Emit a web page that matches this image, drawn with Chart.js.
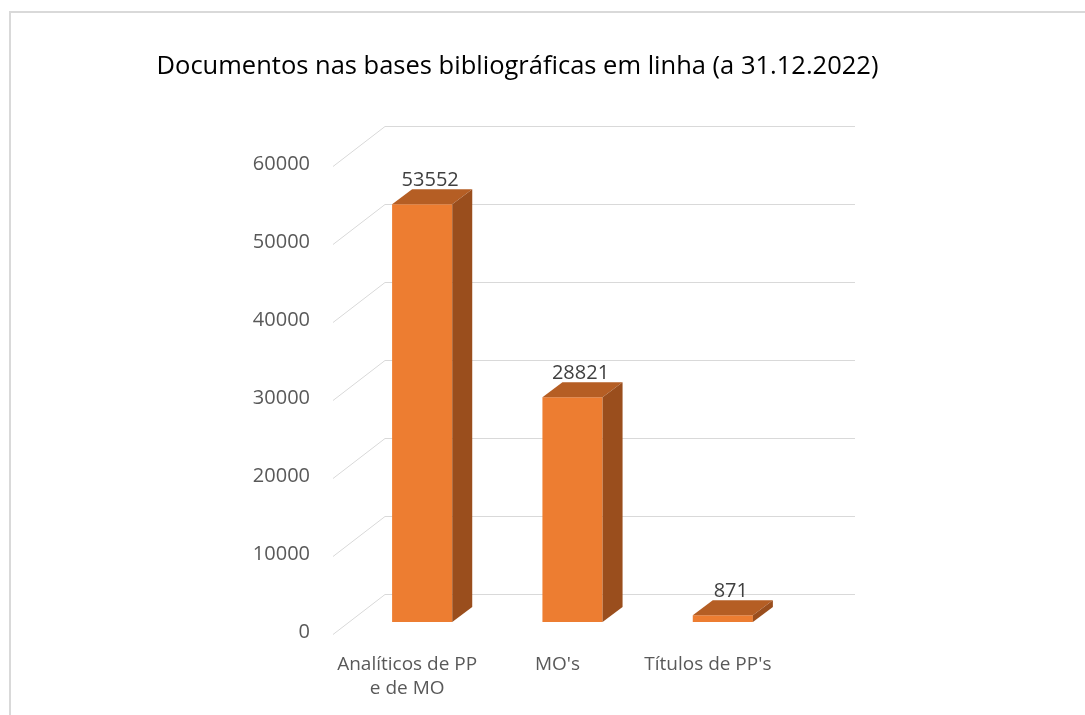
<!DOCTYPE html>
<html>
<head>
<meta charset="utf-8">
<script src="https://cdn.jsdelivr.net/npm/chart.js@4.4.1/dist/chart.umd.min.js"></script>
<style>
html,body{margin:0;padding:0;background:#fff;}
#wrap{position:relative;width:1085px;height:715px;}
</style>
</head>
<body>
<div id="wrap"><canvas id="c" width="1085" height="715"></canvas></div>
<script>
const categories = [["Analíticos de PP", "e de MO"], "MO's", "Títulos de PP's"];
const values = [53552, 28821, 871];
const yTicks = [0, 10000, 20000, 30000, 40000, 50000, 60000];
const titleText = "Documentos nas bases bibliográficas em linha (a 31.12.2022)";

const FRONT = '#ED7D31', TOP = '#B55E24', SIDE = '#9A4E1D';
const DX = 20, DY = -15;

const threeD = {
  id: 'threeD',
  beforeDraw(chart) {
    const ctx = chart.ctx;
    ctx.save();
    ctx.strokeStyle = '#D9D9D9';
    ctx.lineWidth = 2;
    ctx.beginPath();
    ctx.moveTo(10, 720); ctx.lineTo(10, 12); ctx.lineTo(1090, 12);
    ctx.stroke();
    ctx.restore();
  },
  beforeDatasetsDraw(chart) {
    const ctx = chart.ctx, y = chart.scales.y, a = chart.chartArea;
    ctx.save();
    ctx.strokeStyle = '#D9D9D9';
    ctx.lineWidth = 1;
    yTicks.forEach(v => {
      const py = Math.round(y.getPixelForValue(v)) + 0.5;
      ctx.beginPath();
      ctx.moveTo(a.left - 14, py + 12);
      ctx.lineTo(a.left + 38, py - 28);
      ctx.lineTo(a.right + 57, py - 28);
      ctx.stroke();
    });
    ctx.restore();
  },
  afterDatasetsDraw(chart) {
    const ctx = chart.ctx;
    const meta = chart.getDatasetMeta(0);
    ctx.save();
    meta.data.forEach((bar, i) => {
      const w = bar.width;
      const l = bar.x - w / 2, r = bar.x + w / 2, t = bar.y, b = bar.base;
      ctx.fillStyle = TOP;
      ctx.beginPath();
      ctx.moveTo(l, t); ctx.lineTo(l + DX, t + DY); ctx.lineTo(r + DX, t + DY); ctx.lineTo(r, t);
      ctx.closePath(); ctx.fill();
      ctx.fillStyle = SIDE;
      ctx.beginPath();
      ctx.moveTo(r, t); ctx.lineTo(r + DX, t + DY); ctx.lineTo(r + DX, b + DY); ctx.lineTo(r, b);
      ctx.closePath(); ctx.fill();
      ctx.fillStyle = '#404040';
      ctx.font = '20px "Open Sans"';
      ctx.textAlign = 'center';
      ctx.textBaseline = 'middle';
      ctx.fillText(String(chart.data.datasets[0].data[i]), bar.x + 8, t - 24);
    });
    ctx.restore();
  }
};

new Chart(document.getElementById('c'), {
  type: 'bar',
  data: {
    labels: categories,
    datasets: [{
      data: values,
      backgroundColor: FRONT,
      borderWidth: 0,
      barPercentage: 0.4,
      categoryPercentage: 1.0
    }]
  },
  options: {
    responsive: false,
    animation: false,
    devicePixelRatio: 1,
    layout: { padding: { left: 0, right: 50, top: 0, bottom: 0 } },
    plugins: {
      legend: { display: false },
      tooltip: { enabled: false },
      title: {
        display: true,
        text: titleText,
        color: '#000000',
        font: { family: 'Open Sans', size: 25.5, weight: 'normal', lineHeight: 1.2 },
        padding: { top: 51.7, bottom: 71.7 }
      }
    },
    scales: {
      x: {
        grid: { display: false, drawTicks: false },
        border: { display: false },
        ticks: {
          color: '#595959',
          font: { family: 'Open Sans', size: 19, lineHeight: 1.26 },
          padding: 31,
          labelOffset: -15,
          maxRotation: 0,
          autoSkip: false
        },
        afterFit(s) { s.height = 93; }
      },
      y: {
        min: 0, max: 60000,
        afterBuildTicks(s) { s.ticks = yTicks.map(v => ({ value: v })); },
        grid: { display: false, drawTicks: false },
        border: { display: false },
        ticks: {
          color: '#595959',
          font: { family: 'Open Sans', size: 20 },
          padding: 37,
          labelOffset: 10,
          callback: v => String(v)
        },
        afterFit(s) { s.width = 347; }
      },
      yRight: {
        type: 'linear',
        position: 'right',
        display: true,
        grid: { display: false, drawTicks: false },
        border: { display: false },
        ticks: { display: false },
        afterFit(s) { s.width = 237; }
      }
    }
  },
  plugins: [threeD]
});
</script>
</body>
</html>
